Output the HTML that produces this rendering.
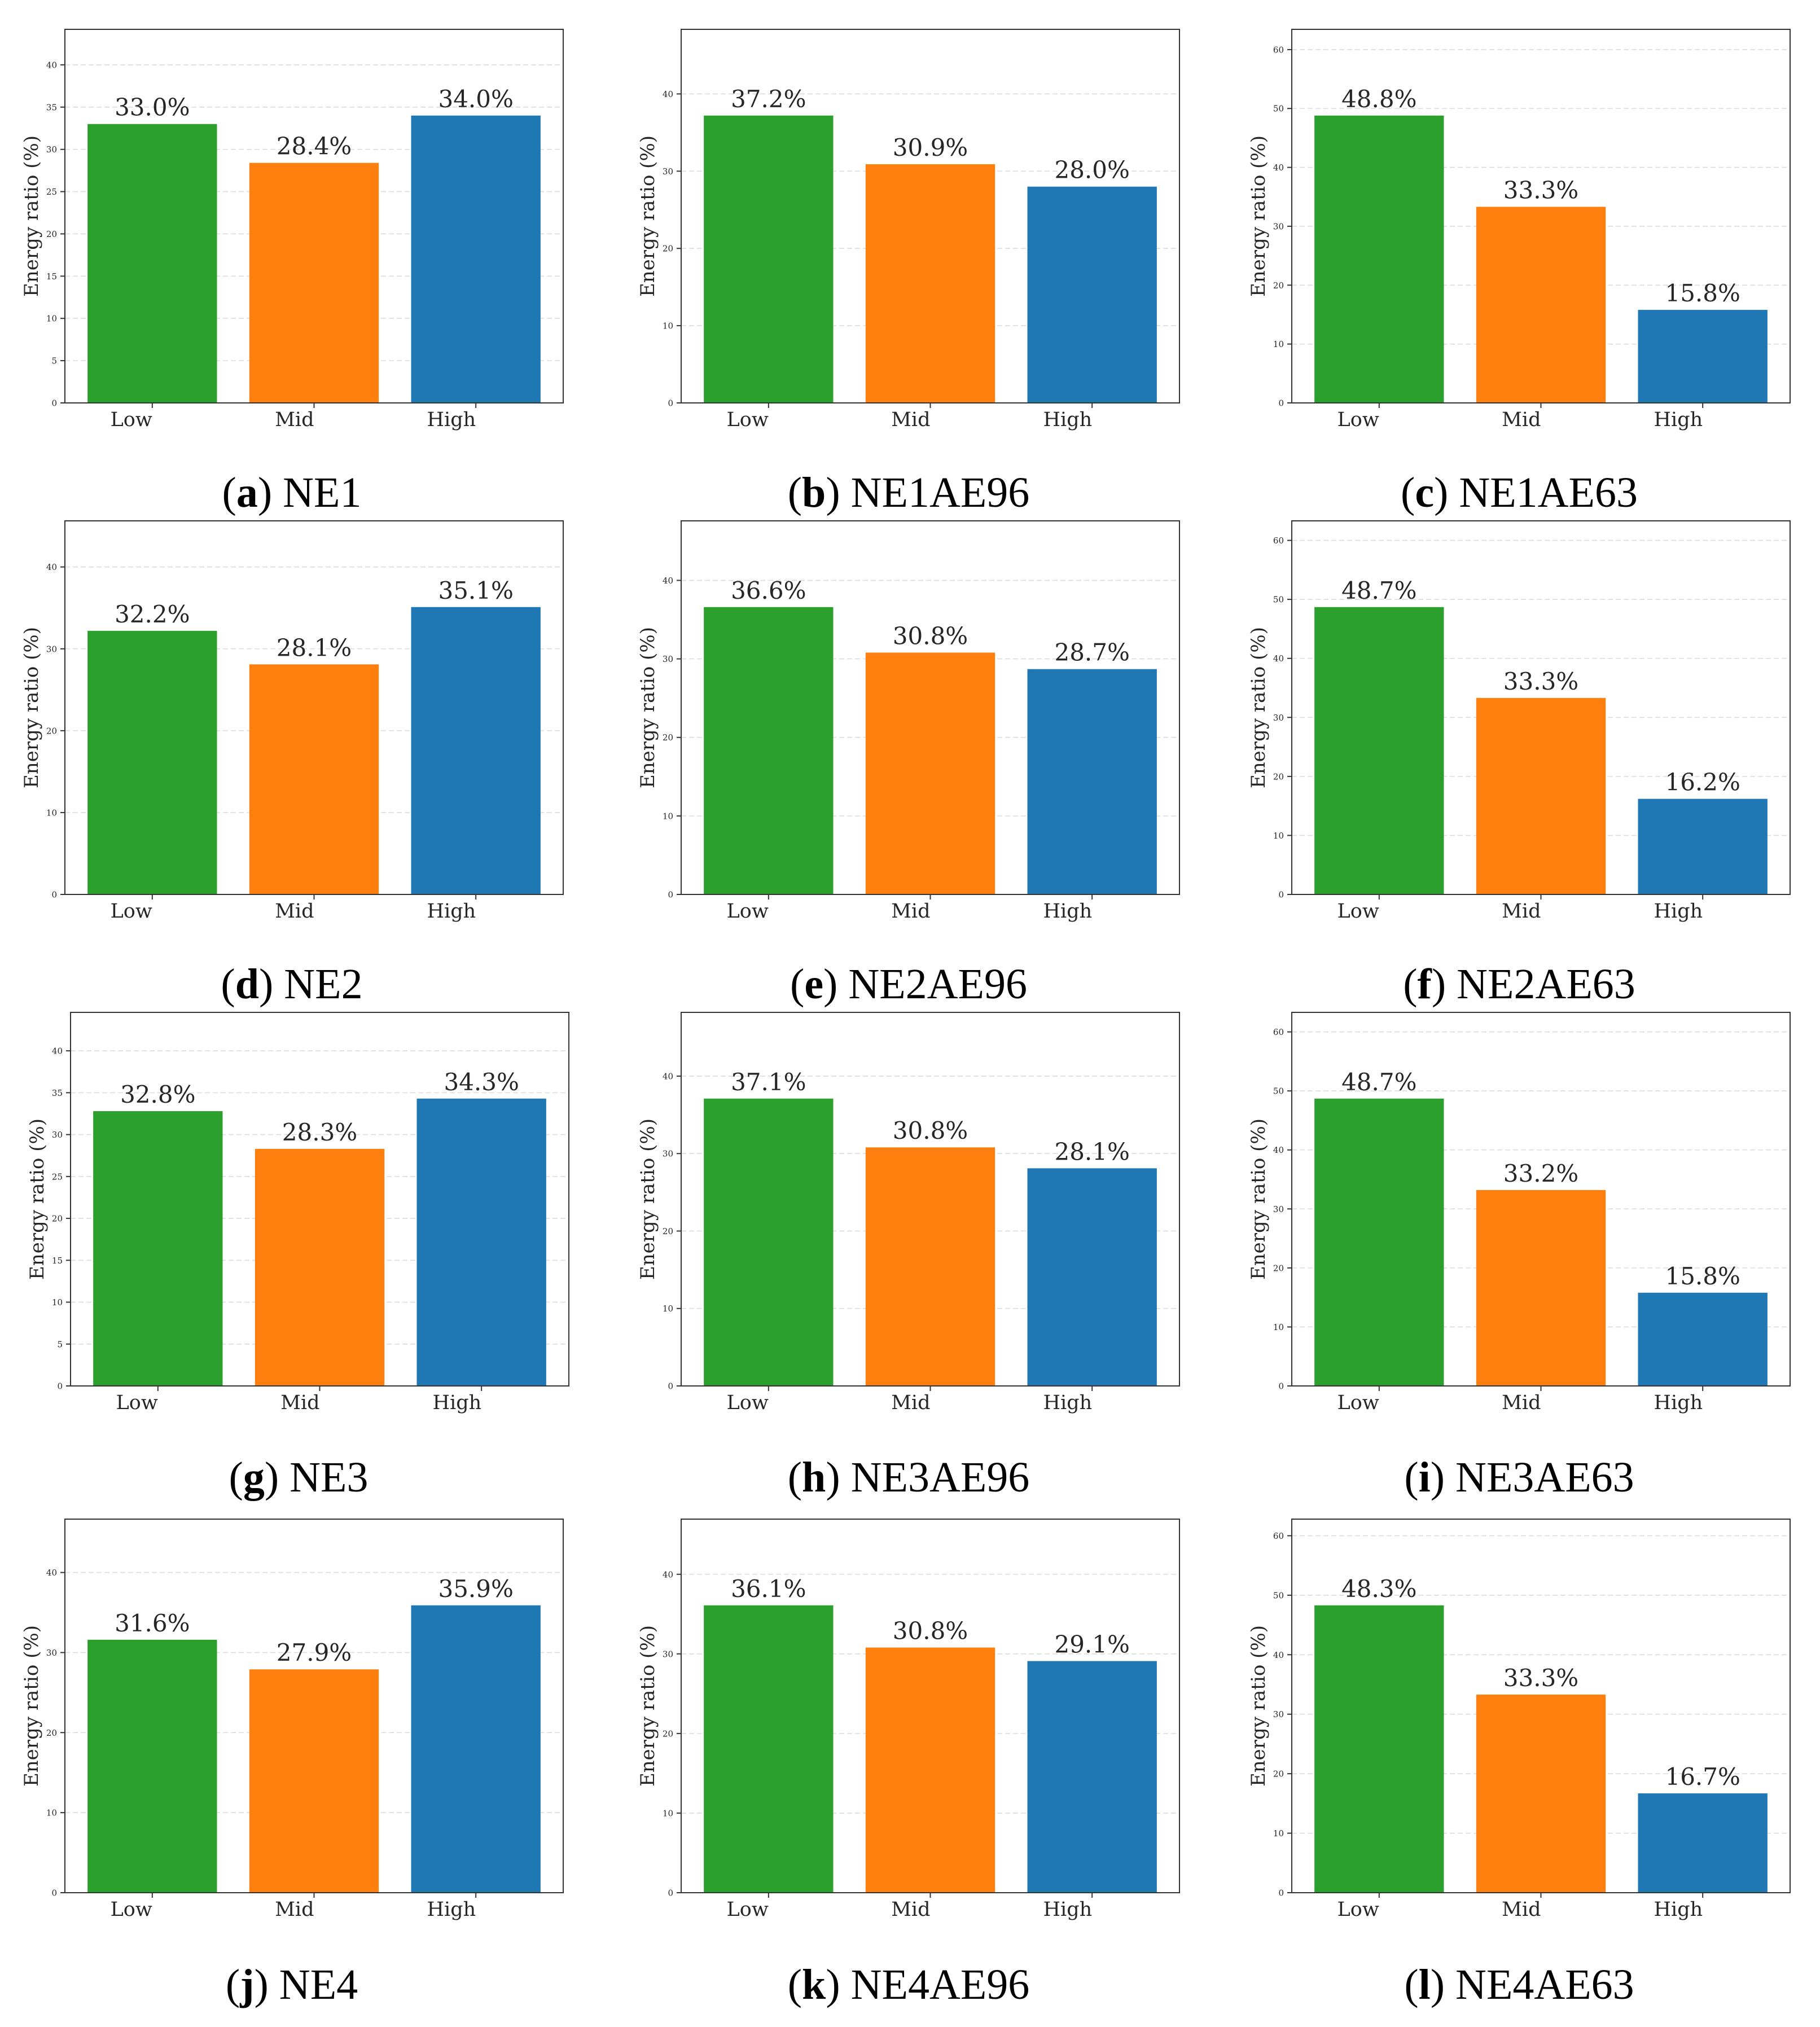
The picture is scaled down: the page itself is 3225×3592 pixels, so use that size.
<!DOCTYPE html>
<html><head><meta charset="utf-8"><title>Energy ratio bar charts</title>
<style>
html,body{margin:0;padding:0;background:#fff;}
svg{display:block;}
text{font-family:"DejaVu Serif","Liberation Serif",serif;fill:#262626;}
.cap{font-family:"Liberation Serif","DejaVu Serif",serif;fill:#000;}
</style></head>
<body>
<svg id="fig" width="3225" height="3592" viewBox="0 0 3225 3592" xmlns="http://www.w3.org/2000/svg"></svg>
<script>
const categories = ["Low", "Mid", "High"];
const panelNames = ["NE1","NE1AE96","NE1AE63","NE2","NE2AE96","NE2AE63","NE3","NE3AE96","NE3AE63","NE4","NE4AE96","NE4AE63"];
const panelLetters = ["a","b","c","d","e","f","g","h","i","j","k","l"];
const lowValues  = [33.0, 37.2, 48.8, 32.2, 36.6, 48.7, 32.8, 37.1, 48.7, 31.6, 36.1, 48.3];
const midValues  = [28.4, 30.9, 33.3, 28.1, 30.8, 33.3, 28.3, 30.8, 33.2, 27.9, 30.8, 33.3];
const highValues = [34.0, 28.0, 15.8, 35.1, 28.7, 16.2, 34.3, 28.1, 15.8, 35.9, 29.1, 16.7];
const tickSteps  = [5, 10, 10, 10, 10, 10, 5, 10, 10, 10, 10, 10];

const NS = "http://www.w3.org/2000/svg";
const svg = document.getElementById("fig");
const colors = ["#2ca02c", "#ff7f0e", "#1f77b4"];
const colLeft = [115, 1207, 2289];
const rowTop = [52, 923, 1794, 2692];
const capBase = [898, 1769, 2643, 3542];
const capCenter = [517, 1610, 2692];
const W = 883, H = 662;

function mk(tag, attrs, parent) {
  const e = document.createElementNS(NS, tag);
  for (const k in attrs) e.setAttribute(k, attrs[k]);
  (parent || svg).appendChild(e);
  return e;
}

for (let p = 0; p < 12; p++) {
  const r = Math.floor(p / 3), c = p % 3;
  const left = colLeft[c] + (p === 6 ? 10 : 0);
  const top = rowTop[r];
  const bottom = top + H;
  const vals = [lowValues[p], midValues[p], highValues[p]];
  const ymax = Math.max(...vals) * 1.3;
  const xmin = -0.54, xmax = 2.54;
  const xs = v => left + (v - xmin) / (xmax - xmin) * W;
  const ys = v => bottom - v / ymax * H;

  const g = mk("g", {});
  
  

  const step = tickSteps[p];
  for (let t = 0; t <= ymax; t += step) {
    const y = ys(t);
    if (t > 0) {
      const gl = mk("line", {x1: left, x2: left + W, y1: y, y2: y, stroke: "#dcdcdc", "stroke-width": 1.6, "stroke-dasharray": "9,5"}, g);
      
      
    }
    const tk = mk("line", {x1: left - 8, x2: left, y1: y, y2: y, stroke: "#333", "stroke-width": 2}, g);
    
    
    const tl = mk("text", {x: left - 14, y: y + 5.5, "font-size": 15, "text-anchor": "end"}, g);
    tl.textContent = String(t);
    
    
  }

  for (let i = 0; i < 3; i++) {
    const x0 = xs(i - 0.4), x1 = xs(i + 0.4), yt = ys(vals[i]);
    const b = mk("rect", {x: x0, y: yt, width: x1 - x0, height: bottom - yt, fill: colors[i]}, g);
    
    
    const vl = mk("text", {x: xs(i), y: yt - 15, "font-size": 42, "text-anchor": "middle"}, g);
    vl.textContent = vals[i].toFixed(1) + "%";
    
    
    const xt = mk("line", {x1: xs(i), x2: xs(i), y1: bottom, y2: bottom + 9, stroke: "#333", "stroke-width": 2}, g);
    
    
    const xl = mk("text", {x: xs(i), y: bottom + 41, "font-size": 35, "text-anchor": "end"}, g);
    xl.textContent = categories[i];
    
    
  }

  const fr = mk("rect", {x: left, y: top, width: W, height: H, fill: "none", stroke: "#333", "stroke-width": 2}, g);
  
  

  const lx = left - 59, ly = top + H / 2;
  const yl = mk("text", {x: lx, y: ly, "font-size": 34, "text-anchor": "middle", "dominant-baseline": "central", transform: "rotate(-90 " + lx + " " + ly + ")"}, g);
  yl.textContent = "Energy ratio (%)";
  
  

  const cx = capCenter[c] + (p === 6 ? 12 : 0);
  const cap = mk("text", {x: cx, y: capBase[r], "font-size": 76, "text-anchor": "middle", class: "cap"}, g);
  const t1 = mk("tspan", {}, cap); t1.textContent = "(";
  const t2 = mk("tspan", {"font-weight": "bold"}, cap); t2.textContent = panelLetters[p];
  const t3 = mk("tspan", {}, cap); t3.textContent = ") " + panelNames[p];
  
  
}
</script>
</body></html>
